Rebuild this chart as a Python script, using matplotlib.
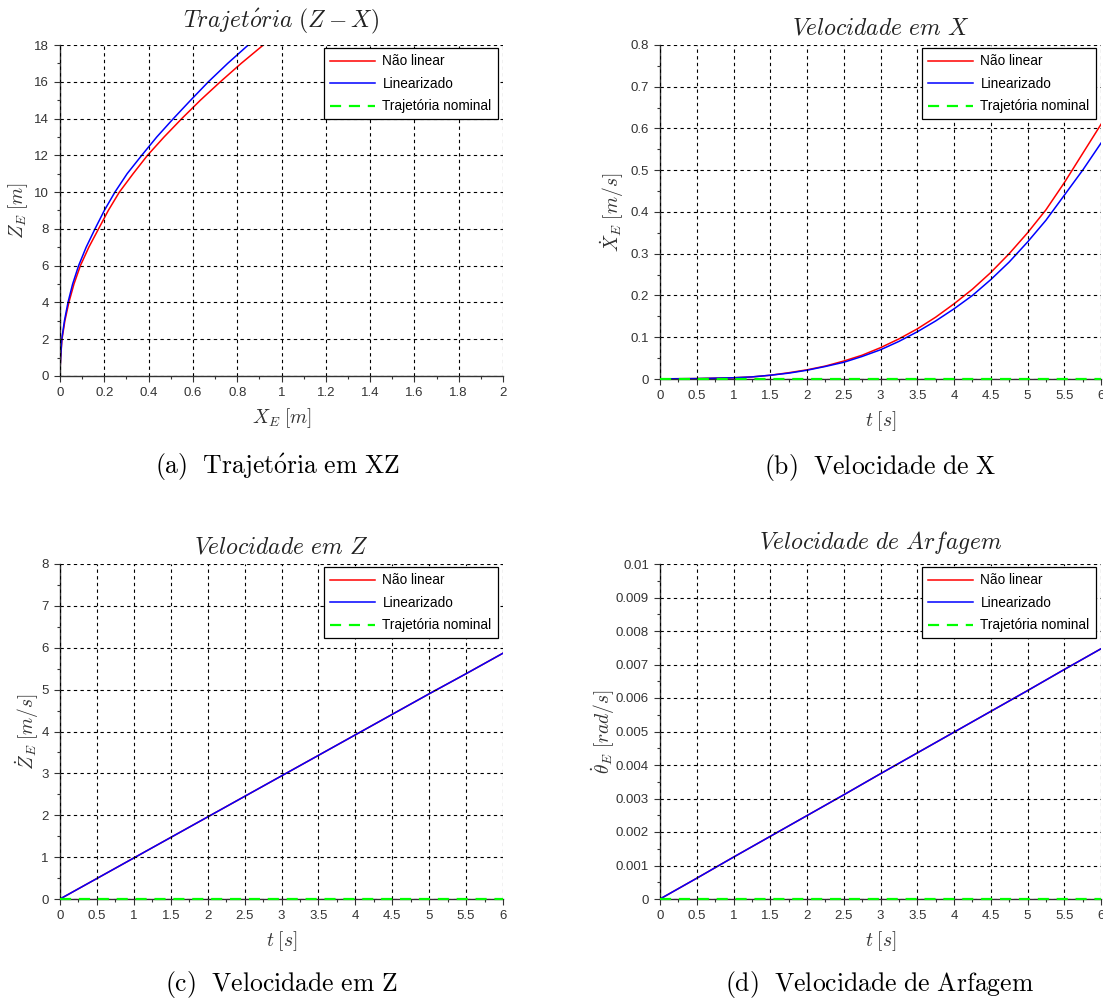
import numpy as np
import matplotlib
matplotlib.use("Agg")
import matplotlib.pyplot as plt
from matplotlib.ticker import MultipleLocator, FuncFormatter

plt.rcParams['font.family'] = ['Liberation Sans', 'DejaVu Sans']
plt.rcParams['mathtext.fontset'] = 'cm'

# ---- data ----
# (a) trajectory Z vs X
z_traj = [0.3, 1, 2, 3, 4, 5, 6, 7, 8, 9, 10, 11, 12, 13, 14, 15, 16, 17, 18]
x_nl = [0, 0.003, 0.009, 0.022, 0.040, 0.063, 0.092, 0.130, 0.174, 0.218,
        0.268, 0.330, 0.395, 0.470, 0.550, 0.634, 0.724, 0.818, 0.918]
x_lin = [0, 0.003, 0.008, 0.020, 0.036, 0.057, 0.084, 0.118, 0.158, 0.200,
         0.248, 0.303, 0.369, 0.437, 0.512, 0.590, 0.670, 0.757, 0.850]

# (b) X velocity
t_b = [0.1, 0.5, 1, 1.25, 1.5, 1.75, 2, 2.25, 2.5, 2.75, 3, 3.25, 3.5, 3.75,
       4, 4.25, 4.5, 4.75, 5, 5.25, 5.5, 5.75, 6]
vx_nl = [0.0005, 0.001, 0.003, 0.005, 0.009, 0.015, 0.022, 0.031, 0.043, 0.057,
         0.075, 0.096, 0.120, 0.148, 0.180, 0.215, 0.255, 0.300, 0.350, 0.405,
         0.470, 0.540, 0.610]
vx_lin = [0.0005, 0.001, 0.003, 0.005, 0.009, 0.014, 0.021, 0.030, 0.040, 0.054,
          0.070, 0.090, 0.113, 0.139, 0.168, 0.200, 0.238, 0.280, 0.328, 0.380,
          0.440, 0.500, 0.565]

# (c) Z velocity and (d) pitch rate
t = [0, 0.5, 1, 1.5, 2, 2.5, 3, 3.5, 4, 4.5, 5, 5.5, 6]
vz_nl = [0, 0.49, 0.98, 1.47, 1.96, 2.45, 2.94, 3.43, 3.92, 4.41, 4.90, 5.38, 5.87]
vz_lin = [0, 0.49, 0.98, 1.47, 1.96, 2.45, 2.94, 3.43, 3.92, 4.41, 4.90, 5.38, 5.87]
q_nl = [0, 0.00062, 0.00125, 0.00187, 0.00249, 0.00311, 0.00374, 0.00436,
        0.00498, 0.0056, 0.00622, 0.00685, 0.00747]
q_lin = [0, 0.00062, 0.00125, 0.00187, 0.00249, 0.00311, 0.00374, 0.00436,
         0.00498, 0.0056, 0.00622, 0.00685, 0.00747]
nominal = [0] * len(t)

labels = ['Não linear', 'Linearizado', 'Trajetória nominal']

W, H = 1103, 1000
fig = plt.figure(figsize=(W / 100, H / 100), dpi=100)


def make_ax(l, r, top, bot):
    return fig.add_axes([l / W, 1 - bot / H, (r - l) / W, (bot - top) / H])


fmt = FuncFormatter(lambda v, p: '%g' % round(v, 6))


def style(ax, xmaj, ymaj, xlim, ylim):
    ax.set_xlim(*xlim)
    ax.set_ylim(*ylim)
    ax.xaxis.set_major_locator(MultipleLocator(xmaj))
    ax.xaxis.set_minor_locator(MultipleLocator(xmaj / 2))
    ax.yaxis.set_major_locator(MultipleLocator(ymaj))
    ax.yaxis.set_minor_locator(MultipleLocator(ymaj / 2))
    ax.xaxis.set_major_formatter(fmt)
    ax.yaxis.set_major_formatter(fmt)
    ax.spines['top'].set_visible(False)
    ax.spines['right'].set_visible(False)
    for s in ['left', 'bottom']:
        ax.spines[s].set_color('#333333')
        ax.spines[s].set_linewidth(1.0)
    ax.tick_params(which='major', direction='out', length=4, width=0.8,
                   pad=4, labelsize=9.5, colors='#333333')
    ax.tick_params(which='minor', direction='out', length=2, width=0.8,
                   colors='#333333')
    ax.grid(True, which='major', color='black', linestyle=(0, (3, 3)),
            linewidth=0.8)
    ax.set_axisbelow(False)


def legend(ax):
    leg = ax.legend(labels, loc='upper right', bbox_to_anchor=(0.988, 0.990),
                    fontsize=9.8, frameon=True, fancybox=False, framealpha=1,
                    edgecolor='black', borderpad=0.45, labelspacing=0.62,
                    handlelength=3.3, handletextpad=0.55, borderaxespad=0)
    leg.get_frame().set_linewidth(0.9)
    leg.set_zorder(10)


def titles(ax, title, ty, xlabel, ylabel, ylx):
    ax.text(0.5, ty, title, transform=ax.transAxes, ha='center',
            va='baseline', fontsize=17, color='#222222')
    ax.set_xlabel(xlabel, fontsize=14, color='#333333', va='center')
    ax.xaxis.set_label_coords(0.5, -0.127)
    ax.set_ylabel(ylabel, fontsize=14, color='#333333', va='center')
    ax.yaxis.set_label_coords(ylx, 0.5)


red = dict(color='#ff0000', lw=1.1)
blue = dict(color='#0000ff', lw=1.1)
green = dict(color='#00ff00', lw=1.6, linestyle=(0, (5, 3.5)),
             clip_on=False, zorder=5)

# (a)
ax = make_ax(60, 503, 45, 376)
ax.plot(x_nl, z_traj, **red)
ax.plot(x_lin, z_traj, **blue)
ax.plot([], [], **green)
style(ax, 0.2, 2, (0, 2), (0, 18))
legend(ax)
titles(ax, r'$Trajet\acute{o}ria\ (Z-X)$', 1.0535, r'$X_E\;[m]$',
       r'$Z_E\;[m]$', -0.095)

# (b)
ax = make_ax(660, 1101, 45, 379)
ax.plot(t_b, vx_nl, **red)
ax.plot(t_b, vx_lin, **blue)
ax.plot(t, nominal, **green)
style(ax, 0.5, 0.1, (0, 6), (0, 0.8))
legend(ax)
titles(ax, r'$Velocidade\ em\ X$', 1.032, r'$t\;[s]$',
       r'$\dot{X}_E\;[m/s]$', -0.109)

# (c)
ax = make_ax(60, 503, 564, 899)
ax.plot(t, vz_nl, **red)
ax.plot(t, vz_lin, **blue)
ax.plot(t, nominal, **green)
style(ax, 0.5, 1, (0, 6), (0, 8))
legend(ax)
titles(ax, r'$Velocidade\ em\ Z$', 1.032, r'$t\;[s]$',
       r'$\dot{Z}_E\;[m/s]$', -0.075)

# (d)
ax = make_ax(660, 1101, 564, 899)
ax.plot(t, q_nl, **red)
ax.plot(t, q_lin, **blue)
ax.plot(t, nominal, **green)
style(ax, 0.5, 0.001, (0, 6), (0, 0.01))
legend(ax)
titles(ax, r'$Velocidade\ de\ Arfagem$', 1.045, r'$t\;[s]$',
       r'$\dot{\theta}_E\;[rad/s]$', -0.129)

# captions
caps = [(r'$\mathrm{(a)\ \ Trajet\acute{o}ria\ em\ XZ}$', 277, 467),
        (r'$\mathrm{(b)\ \ Velocidade\ de\ X}$', 880, 467),
        (r'$\mathrm{(c)\ \ Velocidade\ em\ Z}$', 281, 985),
        (r'$\mathrm{(d)\ \ Velocidade\ de\ Arfagem}$', 880, 985)]
for txt, cx, cy in caps:
    fig.text(cx / W, 1 - cy / H, txt, ha='center', va='center', fontsize=18.5)

fig.savefig('out.png', dpi=100)
